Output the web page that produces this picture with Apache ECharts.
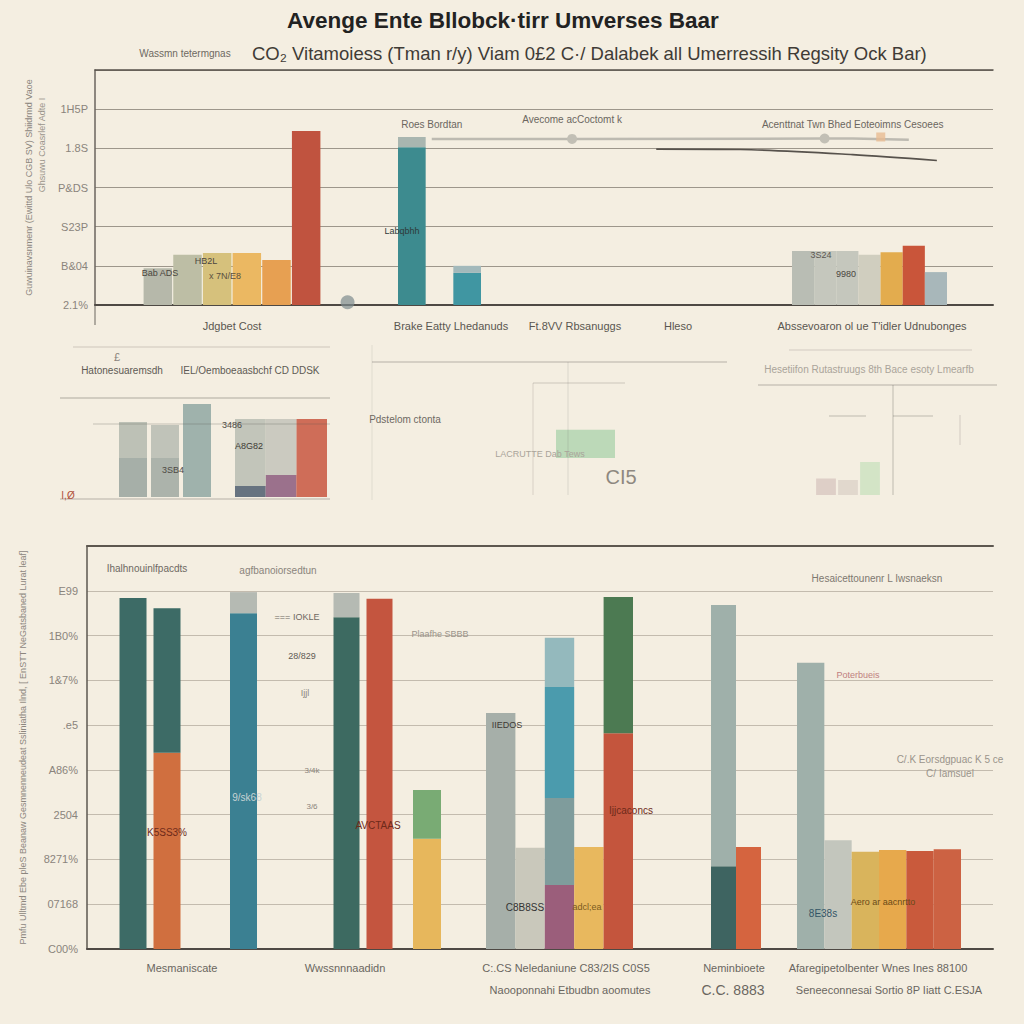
<!DOCTYPE html>
<html><head><meta charset="utf-8">
<script src="https://cdn.jsdelivr.net/npm/echarts@6/dist/echarts.min.js"></script>
<style>html,body{margin:0;padding:0;background:#f4eee1;}#c{width:1024px;height:1024px;}</style>
</head><body><div id="c"></div>
<script>
// ================= DATA =================
const titleText = 'Avenge Ente Bllobck·tirr Umverses Baar';
const subtitleText = 'CO₂ Vitamoiess (Tman r/y) Viam 0£2 C·/ Dalabek all Umerressih Regsity Ock Bar)';
const subtitleNote = 'Wassmn tetermgnas';

// --- top chart ---
const topYName = 'Guwuinavsnmenr (Ewittd Ulo CGB SV) Shiidrmd Vaoe';
const topYName2 = 'Ghsuwu Coasrlef Adte I';
const topTickLabels = ['2.1%', 'B&04', 'S23P', 'P&DS', '1.8S', '1H5P', ''];
const topCategoryLabels = ['Jdgbet Cost', 'Brake Eatty Lhedanuds', 'Ft.8VV Rbsanuggs', 'Hleso', "Abssevoaron ol ue T'idler Udnubonges"];
const topGroup1 = [0.94, 1.28, 1.33, 1.33, 1.15, 4.44];
const topGroup2 = [4.03, 0, 0.82];
const topGroup2Cap = [0.26, 0, 0.18];
const topGroup3 = [1.38, 1.38, 1.38, 1.28, 1.35, 1.51, 0.84];
const topLineLightAt = [12, 17, 26, 27, 29];
const topLineLightValues = [4.24, 4.24, 4.25, 4.25, 4.22];
const topLineLightLabels = ['Roes Bordtan', 'Avecome acCoctomt k', '', 'Acenttnat Twn Bhed Eoteoimns Cesoees', ''];
const topLineDarkAt = [20, 23, 27, 30];
const topLineDarkValues = [3.98, 3.97, 3.84, 3.69];
const topMarkerAt = [28];
const topMarkerValues = [4.29];
const topDotAt = [9];
const topDotValues = [0.07];

// --- bottom chart ---
const bottomYName = 'Pmfu Ulltmd Ebe pleS Beanaw Gesmnenneudeat Ssliniatha Ilnd, [ EnSTT NeGatsbaned Lurat leaf]';
const bottomTickLabels = ['C00%', '07168', '8271%', '2504', 'A86%', '.e5', '1&7%', '1B0%', 'E99', ''];
const bottomGroupSizes = [2, 1, 2, 1, 5, 2, 6];
const bottomSeg1 = [7.84, 4.38, 7.50, 7.41, 7.82, 2.46, 5.27, 2.26, 1.43, 2.28, 4.82, 1.85, 2.28, 6.39, 2.43, 2.17, 2.21, 2.19, 2.23];
const bottomSeg2 = [0, 3.23, 0.47, 0.54, 0, 1.09, 0, 0, 1.94, 0, 3.04, 5.83, 0, 0, 0, 0, 0, 0, 0];
const bottomSeg3 = [0, 0, 0, 0, 0, 0, 0, 0, 2.48, 0, 0, 0, 0, 0, 0, 0, 0, 0, 0];
const bottomSeg4 = [0, 0, 0, 0, 0, 0, 0, 0, 1.10, 0, 0, 0, 0, 0, 0, 0, 0, 0, 0];
const bottomLabelsRow1 = ['Mesmaniscate', 'Wwssnnnaadidn', 'C:.CS Neledaniune C83/2IS C0S5', 'Neminbioete', 'Afaregipetolbenter Wnes Ines 88100'];
const bottomLabelsRow2 = ['', '', 'Naooponnahi Etbudbn aoomutes', 'C.C. 8883', 'Seneeconnesai Sortio 8P Iiatt C.ESJA'];

// --- faded middle panels ---
const miniLeftA1 = [1.56, 1.56, 3.72];
const miniLeftA2 = [1.44, 1.32, 0];
const miniLeftB1 = [0.44, 0.88, 3.12];
const miniLeftB2 = [2.68, 2.24, 0];
const miniMid = [0.97];
const miniRight = [0.55, 0.5, 1.1];

// ================= STYLE =================
const FONT = "'Liberation Sans', Arial, sans-serif";
const topG1Colors = ['#b6b8aa', '#bdbea5', '#d6c17c', '#ebb862', '#e7a052', '#c0533f'];
const topG2Colors = ['#3d8b8f', '#3d8b8f', '#4096a2'];
const topG2CapColors = ['#a9b6b0', '#a9b6b0', '#a3b9bb'];
const topG3Colors = ['#b9bdb4', '#c5c7bd', '#c5c7bd', '#d0cebf', '#e3ac4e', '#c9553a', '#a8b7ba'];
const bottomColor1 = ['#3d6b66', '#d06f3f', '#3b8092', '#3d6a61', '#c4553f', '#e7b75c', '#a6afa9', '#c9c8bb', '#9b5e7b', '#e8b85e', '#c4553d', '#3e6461', '#d5643f', '#9fb0aa', '#c3c6bd', '#d9b45c', '#e7a94c', '#c95a3c', '#cc6243'];
const bottomColor2 = ['#3d6b66', '#3d6b66', '#b5bab3', '#b5bab3', '#3d6b66', '#79ab74', '#3d6b66', '#3d6b66', '#7f9c9c', '#3d6b66', '#4c7a52', '#9fb0aa', '#3d6b66', '#3d6b66', '#3d6b66', '#3d6b66', '#3d6b66', '#3d6b66', '#3d6b66'];
const bottomColor3 = bottomColor2.map((c, i) => i === 8 ? '#4b9bad' : c);
const bottomColor4 = bottomColor2.map((c, i) => i === 8 ? '#94b9bd' : c);

// ================= BUILD =================
const grids = [], xAxes = [], yAxes = [], series = [];
function addGrid(box, n, yMax, xOpt, yOpt) {
  const gi = grids.length;
  grids.push(Object.assign({ outerBoundsMode: 'none', containLabel: false }, box));
  const cats = [];
  for (let j = 0; j < n; j++) cats.push('s' + gi + '_' + j);
  xAxes.push(Object.assign({ gridIndex: gi, type: 'category', data: cats, show: false }, xOpt || {}));
  yAxes.push(Object.assign({ gridIndex: gi, type: 'value', min: 0, max: yMax, show: false }, yOpt || {}));
  return { gi: gi, xi: xAxes.length - 1, yi: yAxes.length - 1, cats: cats };
}
function barSeries(g, values, colors, stack, extra) {
  return Object.assign({
    type: 'bar', xAxisIndex: g.xi, yAxisIndex: g.yi, stack: stack,
    barCategoryGap: '0%', silent: true,
    data: values.map((v, j) => ({ value: v, itemStyle: { color: colors[j] } }))
  }, extra || {});
}
function sparse(n, at, vals) {
  const a = new Array(n).fill(null);
  at.forEach((k, i) => { a[k] = vals[i]; });
  return a;
}

// ---- top frame grid ----
const TOP = { top: 70, height: 235 };
const topSlots = 33;
const gTop = addGrid({ left: 95, width: 898, top: TOP.top, height: TOP.height }, topSlots, 6,
  { show: true, boundaryGap: false, axisLine: { show: true, lineStyle: { color: '#4e4944', width: 2 } }, axisTick: { show: false }, axisLabel: { show: false } },
  { show: true, interval: 1, name: topYName, nameLocation: 'middle', nameRotate: 90, nameGap: 62,
    nameTextStyle: { color: '#8c867e', fontSize: 9, fontFamily: FONT },
    axisLine: { show: true, lineStyle: { color: '#6b655e', width: 1.5 } }, axisTick: { show: false },
    axisLabel: { color: '#8a847c', fontSize: 11, fontFamily: FONT, margin: 7, formatter: v => topTickLabels[Math.round(v)] },
    splitLine: { show: true, lineStyle: { color: '#9d968b', width: 1.2 } } });
xAxes.push({ gridIndex: gTop.gi, type: 'category', position: 'top', data: gTop.cats, boundaryGap: false,
  axisLine: { show: true, lineStyle: { color: '#56504a', width: 1.5 } }, axisTick: { show: false }, axisLabel: { show: false } });

const gT1 = addGrid({ left: 143, width: 178, top: TOP.top, height: TOP.height }, topGroup1.length, 6);
const gT2 = addGrid({ left: 398, width: 83, top: TOP.top, height: TOP.height }, topGroup2.length, 6);
const gT3 = addGrid({ left: 792, width: 155, top: TOP.top, height: TOP.height }, topGroup3.length, 6);
series.push(barSeries(gT1, topGroup1, topG1Colors, 't1', { barCategoryGap: '4%' }));
series.push(barSeries(gT2, topGroup2, topG2Colors, 't2'));
series.push(barSeries(gT2, topGroup2Cap, topG2CapColors, 't2'));
series.push(barSeries(gT3, topGroup3, topG3Colors, 't3'));

// lines on top frame
const lightData = sparse(topSlots, topLineLightAt, topLineLightValues).map((v, k) => {
  if (v === null) return null;
  const i = topLineLightAt.indexOf(k);
  const showSym = (i === 1 || i === 2);
  return { value: v, symbolSize: showSym ? 10 : 0,
    label: { show: !!topLineLightLabels[i], formatter: topLineLightLabels[i] || ' ', position: 'top', distance: 9,
      color: '#6b665f', fontSize: 10, fontFamily: FONT } };
});
series.push({ type: 'line', xAxisIndex: gTop.xi, yAxisIndex: gTop.yi, data: lightData, connectNulls: true,
  symbol: 'circle', itemStyle: { color: '#c2bfb5' }, lineStyle: { color: '#bdbab1', width: 2.5 }, silent: true, z: 3 });
series.push({ type: 'line', xAxisIndex: gTop.xi, yAxisIndex: gTop.yi, data: sparse(topSlots, topLineDarkAt, topLineDarkValues),
  connectNulls: true, smooth: 0.3, showSymbol: false, lineStyle: { color: '#57524c', width: 1.6 }, silent: true, z: 3 });
series.push({ type: 'scatter', xAxisIndex: gTop.xi, yAxisIndex: gTop.yi, data: sparse(topSlots, topMarkerAt, topMarkerValues),
  symbol: 'rect', symbolSize: 9, itemStyle: { color: '#e8bb92', opacity: 0.8 }, silent: true, z: 4 });
series.push({ type: 'scatter', xAxisIndex: gTop.xi, yAxisIndex: gTop.yi, data: sparse(topSlots, topDotAt, topDotValues),
  symbol: 'circle', symbolSize: 14, itemStyle: { color: '#7e8b8e', opacity: 0.7 }, silent: true, z: 4 });

// ---- bottom frame grid ----
const BOT = { top: 546, height: 403 };
const gBot = addGrid({ left: 87, width: 906, top: BOT.top, height: BOT.height }, 1, 9,
  { show: true, axisLine: { show: true, lineStyle: { color: '#4e4944', width: 2 } }, axisTick: { show: false }, axisLabel: { show: false } },
  { show: true, interval: 1, name: bottomYName, nameLocation: 'middle', nameRotate: 90, nameGap: 60,
    nameTextStyle: { color: '#8c867e', fontSize: 9, fontFamily: FONT },
    axisLine: { show: true, lineStyle: { color: '#5d574f', width: 1.5 } }, axisTick: { show: false },
    axisLabel: { color: '#8a847c', fontSize: 11, fontFamily: FONT, margin: 9, formatter: v => bottomTickLabels[Math.round(v)] },
    splitLine: { show: true, lineStyle: { color: '#c3bbae', width: 1 } } });
xAxes.push({ gridIndex: gBot.gi, type: 'category', position: 'top', data: gBot.cats,
  axisLine: { show: true, lineStyle: { color: '#5d574f', width: 2 } }, axisTick: { show: false }, axisLabel: { show: false } });

const bottomBoxes = [
  { left: 116, width: 68, barWidth: 27 },
  { left: 230, width: 27 },
  { left: 330, width: 66, barWidth: 26 },
  { left: 413, width: 28 },
  { left: 486, width: 147 },
  { left: 711, width: 50 },
  { left: 797, width: 164 }
];
let start = 0;
bottomGroupSizes.forEach((n, gi) => {
  const b = bottomBoxes[gi];
  const g = addGrid({ left: b.left, width: b.width, top: BOT.top, height: BOT.height }, n, 9);
  const sl = arr => arr.slice(start, start + n);
  const extra = b.barWidth ? { barWidth: b.barWidth } : {};
  series.push(barSeries(g, sl(bottomSeg1), sl(bottomColor1), 'b' + gi, extra));
  series.push(barSeries(g, sl(bottomSeg2), sl(bottomColor2), 'b' + gi, extra));
  series.push(barSeries(g, sl(bottomSeg3), sl(bottomColor3), 'b' + gi, extra));
  series.push(barSeries(g, sl(bottomSeg4), sl(bottomColor4), 'b' + gi, extra));
  start += n;
});

// ---- faded middle panels ----
const gMA = addGrid({ left: 117, width: 96, top: 397, height: 100 }, 3, 4);
const gMB = addGrid({ left: 235, width: 92, top: 397, height: 100 }, 3, 4);
series.push(barSeries(gMA, miniLeftA1, ['#98a39d', '#9fa8a1', '#8fa7a2'], 'ma', { barWidth: 28, itemStyle: { opacity: 0.85 } }));
series.push(barSeries(gMA, miniLeftA2, ['#b3b8ae', '#b6bbb1', '#8fa7a2'], 'ma', { barWidth: 28, itemStyle: { opacity: 0.85 } }));
series.push(barSeries(gMB, miniLeftB1, ['#4e5d6e', '#8b5b7c', '#c8563f'], 'mb', { itemStyle: { opacity: 0.85 } }));
series.push(barSeries(gMB, miniLeftB2, ['#b9bdb3', '#c3c3ba', '#c8563f'], 'mb', { itemStyle: { opacity: 0.85 } }));
const gMM = addGrid({ left: 556, width: 59, top: 400, height: 58 }, 1, 2);
series.push(barSeries(gMM, miniMid, ['rgba(120,190,135,0.45)'], 'mm'));
const gMR = addGrid({ left: 815, width: 66, top: 435, height: 60 }, 3, 2);
series.push(barSeries(gMR, miniRight, ['rgba(190,160,160,0.4)', 'rgba(190,175,170,0.35)', 'rgba(150,210,150,0.35)'], 'mr', { barCategoryGap: '10%' }));

// ---- decorative lines & annotation texts ----
function ln(x1, y1, x2, y2, stroke, w) {
  return { type: 'line', silent: true, z: 50, shape: { x1: x1, y1: y1, x2: x2, y2: y2 }, style: { stroke: stroke, lineWidth: w || 1 } };
}
function tx(x, y, text, size, fill, align, rotation) {
  return { type: 'text', silent: true, z: 60, x: x, y: y, rotation: rotation || 0,
    style: { text: text, fill: fill, fontSize: size, fontFamily: FONT, align: align || 'center', verticalAlign: 'middle' } };
}
const graphics = [
  tx(185, 53, subtitleNote, 10, '#6e6962'),
  tx(252, 53, subtitleText, 18.5, '#3f3b36', 'left'),
  tx(42, 145, topYName2, 9, '#9a948b', 'center', Math.PI / 2),
  ln(95, 305, 95, 325, 'rgba(90,85,80,0.6)', 1.5),
  ln(73, 347, 330, 347, 'rgba(120,110,100,0.30)'),
  ln(60, 398, 330, 398, 'rgba(90,85,80,0.45)'),
  ln(93, 424, 330, 424, 'rgba(90,85,80,0.30)'),
  ln(60, 499, 330, 499, 'rgba(90,85,80,0.40)'),
  ln(372, 362, 727, 362, 'rgba(90,85,80,0.40)'),
  ln(372, 345, 372, 500, 'rgba(90,85,80,0.12)'),
  ln(533, 383, 625, 383, 'rgba(90,85,80,0.25)'),
  ln(533, 383, 533, 495, 'rgba(90,85,80,0.18)'),
  ln(568, 362, 568, 495, 'rgba(90,85,80,0.15)'),
  ln(789, 350, 972, 350, 'rgba(90,85,80,0.22)'),
  ln(758, 385, 997, 385, 'rgba(90,85,80,0.40)'),
  ln(893, 385, 893, 495, 'rgba(90,85,80,0.35)'),
  ln(960, 415, 960, 445, 'rgba(90,85,80,0.22)'),
  ln(829, 416, 866, 416, 'rgba(90,85,80,0.35)'),
  ln(893, 416, 933, 416, 'rgba(90,85,80,0.35)'),
  tx(117, 357, '£', 11, '#8a847c'),
  tx(122, 370, 'Hatonesuaremsdh', 10, '#5e5a54'),
  tx(250, 370, 'IEL/Oemboeaasbchf CD DDSK', 10, '#5e5a54'),
  tx(232, 425, '3486', 9, '#4e4a44'),
  tx(249, 446, 'A8G82', 9, '#3e3a34'),
  tx(173, 470, '3SB4', 9, '#4e4a44'),
  tx(68, 495, 'I,Ø', 10, '#b0503a'),
  tx(405, 419, 'Pdstelom ctonta', 10, '#6e6962'),
  tx(540, 454, 'LACRUTTE Dab Tews', 9, '#aaa49a'),
  tx(621, 477, 'CI5', 20, '#8e8880'),
  tx(869, 369, 'Hesetiifon Rutastruugs 8th Bace esoty Lmearfb', 10, '#aaa49a'),
  tx(160, 273, 'Bab ADS', 9, '#4a4640'),
  tx(206, 261, 'HB2L', 9, '#4a4640'),
  tx(225, 276, 'x 7N/E8', 9, '#5a5040'),
  tx(402, 231, 'Labqbhh', 9, '#2e3a3a'),
  tx(821, 255, '3S24', 9, '#5a5650'),
  tx(846, 274, '9980', 9, '#4a4640'),
  tx(232, 326, topCategoryLabels[0], 11, '#5a5650'),
  tx(451, 326, topCategoryLabels[1], 11, '#5a5650'),
  tx(575, 326, topCategoryLabels[2], 11, '#5a5650'),
  tx(678, 326, topCategoryLabels[3], 11, '#5a5650'),
  tx(872, 326, topCategoryLabels[4], 11, '#5a5650'),
  tx(147, 568, 'Ihalhnouinlfpacdts', 10, '#6e6962'),
  tx(278, 570, 'agfbanoiorsedtun', 10, '#8a847c'),
  tx(877, 578, 'Hesaicettounenr L Iwsnaeksn', 10, '#7e7870'),
  tx(297, 617, '=== IOKLE', 9, '#6e6962'),
  tx(302, 656, '28/829', 9, '#5e5a54'),
  tx(305, 693, 'Ijjl', 9, '#8a847c'),
  tx(312, 770, '3/4k', 8, '#8a847c'),
  tx(312, 806, '3/6', 8, '#8a847c'),
  tx(440, 634, 'Plaafhe SBBB', 9, '#9a948b'),
  tx(167, 832, 'K5SS3%', 10, '#6e2a1a'),
  tx(247, 797, '9/sk68', 10, '#c8d4d4'),
  tx(378, 825, 'AVCTAAS', 10, '#6e2a1a'),
  tx(507, 725, 'IIEDOS', 9, '#3e3a34'),
  tx(525, 907, 'C8B8SS', 10, '#333333'),
  tx(587, 907, 'adcl;ea', 9, '#7a5a20'),
  tx(631, 810, 'Ijjcaconcs', 10, '#6e2a1a'),
  tx(858, 675, 'Poterbueis', 9, '#c08080'),
  tx(950, 759, 'C/.K Eorsdgpuac K 5 ce', 10, '#9a948b'),
  tx(950, 773, 'C/ Iamsuel', 10, '#9a948b'),
  tx(823, 913, '8E38s', 10, '#335566'),
  tx(883, 902, 'Aero ar aacnrtto', 9, '#6a4a18'),
  tx(182, 968, bottomLabelsRow1[0], 11, '#6a665f'),
  tx(345, 968, bottomLabelsRow1[1], 11, '#6a665f'),
  tx(566, 968, bottomLabelsRow1[2], 11, '#6a665f'),
  tx(570, 990, bottomLabelsRow2[2], 11, '#6a665f'),
  tx(734, 968, bottomLabelsRow1[3], 11, '#6a665f'),
  tx(733, 990, bottomLabelsRow2[3], 14, '#6a665f'),
  tx(878, 968, bottomLabelsRow1[4], 11, '#6a665f'),
  tx(889, 990, bottomLabelsRow2[4], 11, '#6a665f')
];

const chart = echarts.init(document.getElementById('c'), null, { renderer: 'svg', width: 1024, height: 1024 });
chart.setOption({
  backgroundColor: '#f4eee1',
  animation: false,
  title: { text: titleText, left: 282, top: 4, textStyle: { fontSize: 22.5, fontWeight: 'bold', color: '#222', fontFamily: FONT } },
  grid: grids, xAxis: xAxes, yAxis: yAxes, series: series, graphic: { elements: graphics }
});
</script></body></html>
